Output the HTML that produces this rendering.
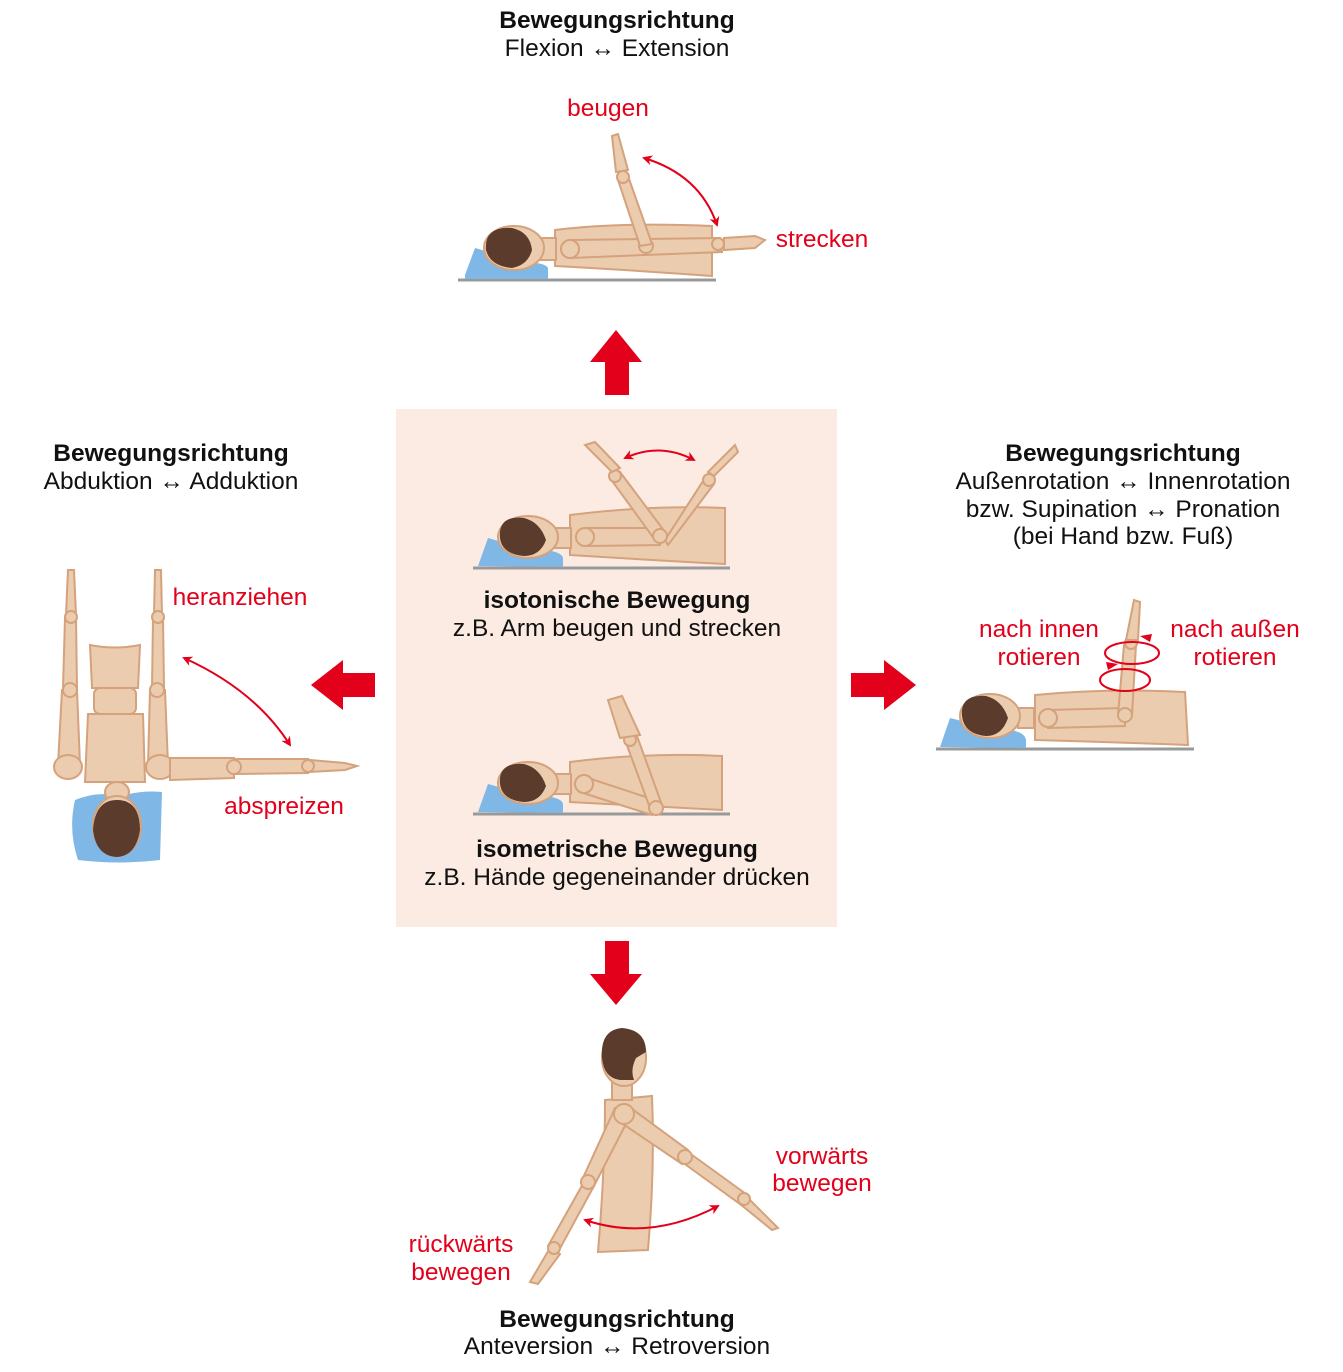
<!DOCTYPE html>
<html><head><meta charset="utf-8"><style>
body{margin:0;background:#fff}
svg{display:block}
text{font-family:"Liberation Sans",sans-serif;font-size:24.5px}
.b{font-weight:bold;fill:#111}
.n{fill:#111}
.r{fill:#e2001a}
.sk{fill:#ecccae;stroke:#d4a27c;stroke-width:2}
.hair{fill:#5a3b2c}
.pil{fill:#7fb8e6}
.fl{stroke:#999;stroke-width:3}
.ra{fill:none;stroke:#e2001a;stroke-width:2}
</style></head><body>
<svg width="1343" height="1372" viewBox="0 0 1343 1372" xmlns="http://www.w3.org/2000/svg">
<defs>
<marker id="ah" markerWidth="10" markerHeight="10" refX="8" refY="5" orient="auto-start-reverse" markerUnits="userSpaceOnUse"><path d="M0,0 L10,5 L0,10 L3,5z" fill="#e2001a"/></marker>
</defs>
<rect x="396" y="409" width="441" height="518" fill="#fcebe2"/>
<path d="M605,395 V362 H590 L616,330 L642,362 H629 V395Z" fill="#e2001a"/>
<path d="M605,941 V974 H590 L616,1005 L642,974 H629 V941Z" fill="#e2001a"/>
<path d="M375,673 H343 V660 L311,685 L343,710 V697 H375Z" fill="#e2001a"/>
<path d="M851,673 H884 V660 L916,685 L884,710 V697 H851Z" fill="#e2001a"/>

<text x="617" y="28" text-anchor="middle" class="b">Bewegungsrichtung</text>
<text x="617" y="56" text-anchor="middle" class="n">Flexion ↔ Extension</text>
<text x="171" y="461" text-anchor="middle" class="b">Bewegungsrichtung</text>
<text x="171" y="489" text-anchor="middle" class="n">Abduktion ↔ Adduktion</text>
<text x="1123" y="461" text-anchor="middle" class="b">Bewegungsrichtung</text>
<text x="1123" y="489" text-anchor="middle" class="n">Außenrotation ↔ Innenrotation</text>
<text x="1123" y="517" text-anchor="middle" class="n">bzw. Supination ↔ Pronation</text>
<text x="1123" y="544" text-anchor="middle" class="n">(bei Hand bzw. Fuß)</text>
<text x="617" y="1327" text-anchor="middle" class="b">Bewegungsrichtung</text>
<text x="617" y="1354" text-anchor="middle" class="n">Anteversion ↔ Retroversion</text>
<text x="617" y="608" text-anchor="middle" class="b">isotonische Bewegung</text>
<text x="617" y="636" text-anchor="middle" class="n">z.B. Arm beugen und strecken</text>
<text x="617" y="857" text-anchor="middle" class="b">isometrische Bewegung</text>
<text x="617" y="885" text-anchor="middle" class="n">z.B. Hände gegeneinander drücken</text>

<text x="608" y="116" text-anchor="middle" class="r">beugen</text>
<text x="822" y="247" text-anchor="middle" class="r">strecken</text>
<text x="240" y="605" text-anchor="middle" class="r">heranziehen</text>
<text x="284" y="814" text-anchor="middle" class="r">abspreizen</text>
<text x="1039" y="637" text-anchor="middle" class="r">nach innen</text>
<text x="1039" y="665" text-anchor="middle" class="r">rotieren</text>
<text x="1235" y="637" text-anchor="middle" class="r">nach außen</text>
<text x="1235" y="665" text-anchor="middle" class="r">rotieren</text>
<text x="822" y="1164" text-anchor="middle" class="r">vorwärts</text>
<text x="822" y="1191" text-anchor="middle" class="r">bewegen</text>
<text x="461" y="1252" text-anchor="middle" class="r">rückwärts</text>
<text x="461" y="1280" text-anchor="middle" class="r">bewegen</text>

<!-- TOP FIGURE -->
<line x1="458" y1="280" x2="716" y2="280" class="fl"/>
<path d="M465,275 L475,248 Q500,255 520,262 Q545,262 548,268 L548,279 L465,279Z" class="pil"/>
<path d="M555,230 Q620,222 712,226 L712,276 Q630,270 555,266Z" class="sk"/>
<rect x="540" y="238" width="16" height="22" class="sk"/>
<ellipse cx="514" cy="248" rx="30" ry="22" class="sk"/>
<path d="M486,250 Q484,226 512,228 Q530,232 532,250 Q528,265 512,268 Q490,266 486,250Z" class="hair"/>
<path d="M570,240 L720,238 L722,252 L570,258Z" class="sk"/>
<circle cx="570" cy="249" r="9" class="sk"/>
<circle cx="646" cy="246" r="7" class="sk"/>
<circle cx="718" cy="244" r="6" class="sk"/>
<path d="M724,238 L755,236 L765,240 L755,248 L724,250Z" class="sk"/>
<path d="M640,246 L618,180 L628,176 L652,244Z" class="sk"/>
<circle cx="623" cy="177" r="6" class="sk"/>
<path d="M616,172 L612,136 L618,134 L628,170Z" class="sk"/>
<path d="M644,158 Q700,175 717,225" class="ra" marker-start="url(#ah)" marker-end="url(#ah)"/>

<!-- CENTER TOP FIGURE -->
<line x1="473" y1="568" x2="730" y2="568" class="fl"/>
<path d="M478,566 L488,538 Q515,546 545,550 Q562,552 563,558 L563,567Z" class="pil"/>
<path d="M570,515 Q650,505 725,508 L725,564 Q650,560 570,555Z" class="sk"/>
<rect x="555" y="528" width="16" height="20" class="sk"/>
<ellipse cx="528" cy="537" rx="30" ry="21" class="sk"/>
<path d="M500,538 Q498,515 524,518 Q540,522 546,540 Q540,556 524,556 Q502,554 500,538Z" class="hair"/>
<path d="M585,528 L660,528 L660,545 L585,546Z" class="sk"/>
<circle cx="585" cy="537" r="9" class="sk"/>
<path d="M655,540 L610,478 L620,472 L665,532Z" class="sk"/>
<path d="M665,540 L705,478 L714,484 L668,545Z" class="sk"/>
<circle cx="660" cy="536" r="7" class="sk"/>
<circle cx="615" cy="476" r="6" class="sk"/>
<circle cx="709" cy="480" r="6" class="sk"/>
<path d="M612,472 L585,445 L595,442 L620,468Z" class="sk"/>
<path d="M708,472 L735,445 L738,452 L714,476Z" class="sk"/>
<path d="M625,458 Q660,442 694,460" class="ra" marker-start="url(#ah)" marker-end="url(#ah)"/>

<!-- CENTER BOTTOM FIGURE -->
<line x1="473" y1="814" x2="730" y2="814" class="fl"/>
<path d="M478,812 L488,784 Q515,792 545,796 Q562,798 563,804 L563,813Z" class="pil"/>
<path d="M570,762 Q650,752 722,756 L722,810 Q650,806 570,802Z" class="sk"/>
<rect x="555" y="774" width="16" height="20" class="sk"/>
<ellipse cx="528" cy="783" rx="30" ry="21" class="sk"/>
<path d="M500,784 Q498,762 524,764 Q540,768 546,786 Q540,802 524,802 Q502,800 500,784Z" class="hair"/>
<path d="M582,776 L655,800 L652,815 L580,792Z" class="sk"/>
<circle cx="584" cy="784" r="9" class="sk"/>
<path d="M650,808 L625,740 L637,736 L662,805Z" class="sk"/>
<circle cx="656" cy="808" r="7" class="sk"/>
<circle cx="630" cy="740" r="6" class="sk"/>
<path d="M620,738 L608,700 L622,696 L640,735Z" class="sk"/>

<!-- RIGHT FIGURE -->
<line x1="936" y1="749" x2="1194" y2="749" class="fl"/>
<path d="M940,747 L950,718 Q980,726 1010,730 Q1025,732 1026,740 L1026,748Z" class="pil"/>
<path d="M1035,695 Q1110,688 1185,692 L1188,745 Q1110,742 1035,740Z" class="sk"/>
<rect x="1018" y="708" width="16" height="20" class="sk"/>
<ellipse cx="990" cy="716" rx="30" ry="22" class="sk"/>
<path d="M962,716 Q960,694 986,696 Q1002,700 1008,718 Q1002,736 986,736 Q964,734 962,716Z" class="hair"/>
<path d="M1048,710 L1125,708 L1125,726 L1048,728Z" class="sk"/>
<circle cx="1048" cy="718" r="9" class="sk"/>
<path d="M1118,715 L1124,645 L1136,645 L1132,715Z" class="sk"/>
<circle cx="1125" cy="715" r="7" class="sk"/>
<circle cx="1131" cy="643" r="6" class="sk"/>
<path d="M1126,640 L1134,600 L1140,602 L1138,640Z" class="sk"/>
<ellipse cx="1132" cy="653" rx="27" ry="11" class="ra"/>
<ellipse cx="1125" cy="680" rx="25" ry="11" class="ra"/>
<path d="M1150,642 L1140,636 L1152,634Z" fill="#e2001a"/>
<path d="M1108,670 L1118,664 L1106,662Z" fill="#e2001a"/>

<!-- LEFT FIGURE -->
<path d="M75,800 Q100,790 118,797 Q140,790 162,792 L160,860 Q120,865 78,860 Q68,830 75,800Z" class="pil"/>
<path d="M90,645 Q115,650 140,645 L138,688 L92,688Z" class="sk"/>
<rect x="94" y="688" width="42" height="26" rx="6" class="sk"/>
<path d="M88,714 L143,714 L145,782 L85,782Z" class="sk"/>
<ellipse cx="117" cy="792" rx="12" ry="10" class="sk"/>
<ellipse cx="117" cy="826" rx="24" ry="30" class="sk"/>
<path d="M93,830 Q95,800 117,800 Q140,800 140,830 Q136,856 117,857 Q96,856 93,830Z" class="hair"/>
<path d="M58,765 L62,690 L77,690 L80,765Z" class="sk"/>
<path d="M63,688 L65,618 L76,618 L77,688Z" class="sk"/>
<path d="M66,615 L68,570 L74,570 L76,615Z" class="sk"/>
<circle cx="70" cy="690" r="7" class="sk"/><circle cx="71" cy="617" r="6" class="sk"/>
<ellipse cx="68" cy="767" rx="14" ry="12" class="sk"/>
<path d="M148,765 L150,690 L165,690 L168,765Z" class="sk"/>
<path d="M152,688 L153,618 L163,618 L164,688Z" class="sk"/>
<path d="M154,615 L155,570 L161,570 L162,615Z" class="sk"/>
<circle cx="157" cy="690" r="7" class="sk"/><circle cx="158" cy="617" r="6" class="sk"/>
<ellipse cx="160" cy="767" rx="14" ry="12" class="sk"/>
<path d="M170,758 L234,758 L234,778 L170,780Z" class="sk"/>
<path d="M234,759 L308,759 L308,773 L234,774Z" class="sk"/>
<path d="M310,760 L345,763 L357,766 L345,770 L310,772Z" class="sk"/>
<circle cx="234" cy="767" r="7" class="sk"/><circle cx="308" cy="766" r="6" class="sk"/>
<path d="M184,658 Q255,690 290,745" class="ra" marker-start="url(#ah)" marker-end="url(#ah)"/>

<!-- BOTTOM FIGURE -->
<path d="M605,1100 L652,1096 Q655,1170 648,1250 L598,1252 Q605,1170 605,1100Z" class="sk"/>
<rect x="612" y="1080" width="20" height="20" class="sk"/>
<ellipse cx="624" cy="1058" rx="22" ry="28" class="sk"/>
<path d="M602,1058 Q600,1030 622,1028 Q646,1030 646,1052 L636,1058 Q630,1070 634,1080 L620,1080 Q604,1078 602,1058Z" class="hair"/>
<path d="M615,1108 L582,1180 L594,1186 L630,1116Z" class="sk"/>
<path d="M584,1182 L548,1246 L558,1252 L594,1186Z" class="sk"/>
<path d="M550,1248 L530,1282 L538,1284 L560,1254Z" class="sk"/>
<circle cx="588" cy="1182" r="7" class="sk"/><circle cx="554" cy="1248" r="6" class="sk"/>
<path d="M628,1106 L688,1150 L682,1164 L620,1122Z" class="sk"/>
<path d="M688,1152 L746,1194 L740,1204 L682,1162Z" class="sk"/>
<path d="M746,1196 L778,1228 L772,1230 L740,1204Z" class="sk"/>
<circle cx="685" cy="1157" r="7" class="sk"/><circle cx="744" cy="1199" r="6" class="sk"/>
<circle cx="624" cy="1114" r="10" class="sk"/>
<path d="M585,1220 Q650,1242 718,1206" class="ra" marker-start="url(#ah)" marker-end="url(#ah)"/>
</svg>
</body></html>
